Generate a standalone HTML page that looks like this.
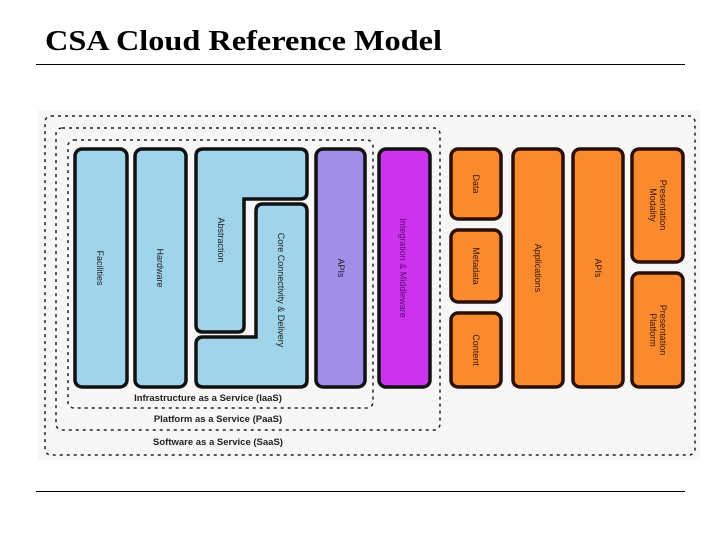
<!DOCTYPE html>
<html><head><meta charset="utf-8"><style>
body{margin:0;background:#fff;}
svg{display:block}
</style></head><body>
<svg width="720" height="540" viewBox="0 0 720 540" xmlns="http://www.w3.org/2000/svg" font-family="Liberation Sans, sans-serif">
<rect width="720" height="540" fill="#fff"/>
<text x="45" y="50" font-family="Liberation Serif, serif" font-weight="bold" font-size="28" fill="#000" textLength="397" lengthAdjust="spacingAndGlyphs">CSA Cloud Reference Model</text>
<line x1="36" y1="64.5" x2="685" y2="64.5" stroke="#000" stroke-width="1"/>
<line x1="36" y1="491.5" x2="685" y2="491.5" stroke="#000" stroke-width="1"/>
<rect x="38" y="110" width="662" height="350" fill="#f7f7f7"/>
<g fill="none" stroke="#222" stroke-width="1.5" stroke-dasharray="3,4">
<rect x="45" y="116" width="650" height="339" rx="6"/>
<rect x="56" y="128" width="384" height="302" rx="6"/>
<rect x="68" y="140" width="305" height="268" rx="6"/>
</g>
<g stroke="#111" stroke-width="3.5">
<rect x="75" y="149" width="52" height="238" rx="7" fill="#9fd4ea"/>
<rect x="135" y="149" width="51" height="238" rx="7" fill="#9fd4ea"/>
<path d="M203 149 H300 Q307 149 307 156 V192 Q307 199 300 199 H244 V326 Q244 332 238 332 H203 Q196 332 196 325 V156 Q196 149 203 149 Z" fill="#9fd4ea"/>
<path d="M263 204 H300 Q307 204 307 211 V380 Q307 387 300 387 H203 Q196 387 196 380 V344 Q196 337 203 337 H256 V211 Q256 204 263 204 Z" fill="#9fd4ea"/>
<rect x="316" y="149" width="49" height="238" rx="7" fill="#a18ee8"/>
<rect x="379" y="149" width="51" height="238" rx="7" fill="#cc33ee"/>
</g>
<g stroke="#2a0f05" stroke-width="3.5" fill="#f98a2e">
<rect x="451" y="149" width="50" height="70" rx="7"/>
<rect x="451" y="230" width="50" height="72" rx="7"/>
<rect x="451" y="313" width="50" height="74" rx="7"/>
<rect x="513" y="149" width="50" height="238" rx="7"/>
<rect x="573" y="149" width="50" height="238" rx="7"/>
<rect x="632" y="149" width="51" height="113" rx="7"/>
<rect x="632" y="273" width="51" height="114" rx="7"/>
</g>
<g font-size="9" fill="#222" text-anchor="middle">
<text transform="translate(97,268) rotate(90)">Facilities</text>
<text transform="translate(157,268) rotate(90)">Hardware</text>
<text transform="translate(218,240) rotate(90)">Abstraction</text>
<text transform="translate(278,290) rotate(90)">Core Connectivity &amp; Delivery</text>
<text transform="translate(338,268) rotate(90)">APIs</text>
<text transform="translate(400,268) rotate(90)" fill="#5a0a70">Integration &amp; Middleware</text>
<text transform="translate(473,184) rotate(90)" fill="#3a1500">Data</text>
<text transform="translate(473,266) rotate(90)" fill="#3a1500">Metadata</text>
<text transform="translate(473,350) rotate(90)" fill="#3a1500">Content</text>
<text transform="translate(535,268) rotate(90)" fill="#3a1500">Applications</text>
<text transform="translate(595,268) rotate(90)" fill="#3a1500">APIs</text>
<text transform="translate(660,205) rotate(90)" fill="#3a1500">Presentation</text>
<text transform="translate(650,205) rotate(90)" fill="#3a1500">Modality</text>
<text transform="translate(660,330) rotate(90)" fill="#3a1500">Presentation</text>
<text transform="translate(650,330) rotate(90)" fill="#3a1500">Platform</text>
</g>
<g font-size="9.5" font-weight="bold" fill="#222" text-anchor="middle">
<text x="208" y="401">Infrastructure as a Service (IaaS)</text>
<text x="218" y="422">Platform as a Service (PaaS)</text>
<text x="218" y="445">Software as a Service (SaaS)</text>
</g>
</svg>
</body></html>
